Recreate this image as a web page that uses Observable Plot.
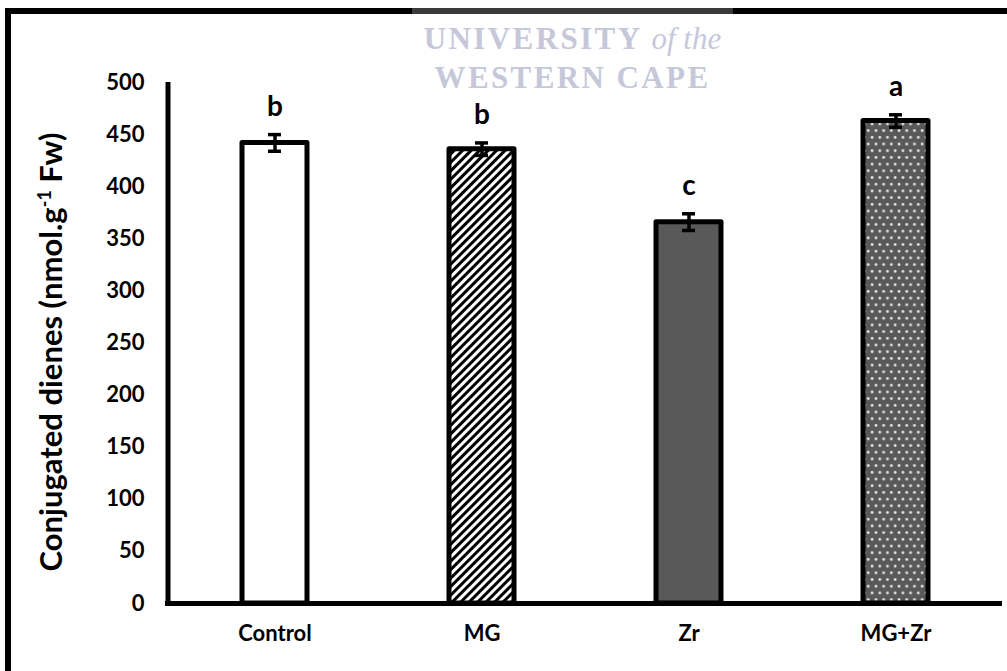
<!DOCTYPE html>
<html>
<head>
<meta charset="utf-8">
<script src="https://cdn.jsdelivr.net/npm/d3@7"></script>
<script src="https://cdn.jsdelivr.net/npm/@observablehq/plot@0.6"></script>
<style>
  html, body { margin: 0; padding: 0; background: #fff; }
  #wrap { position: relative; width: 1007px; height: 671px; overflow: hidden; background: #fff; }
  #chart { position: absolute; left: 0; top: 0; }
  .border-top { position: absolute; left: 5px; top: 8px; width: 1010px; height: 6px; background: #000; }
  .border-left { position: absolute; left: 5px; top: 8px; width: 6px; height: 700px; background: #000; }
  .wm-box { position: absolute; left: 412px; top: 0px; width: 321px; height: 8px; background: #fff; }
  .wm-line { position: absolute; left: 412px; top: 8px; width: 321px; height: 6px; background: #3a3a3a; }
  .wm { position: absolute; left: 402px; width: 341px; text-align: center; color: #c6c8da; font-weight: bold;
        font-family: "Liberation Serif", "DejaVu Serif", serif; font-size: 31px; letter-spacing: 2.4px; line-height: 1; }
</style>
</head>
<body>
<div id="wrap">
  <div id="chart"></div>
  <div class="border-top"></div>
  <div class="border-left"></div>
  <div class="wm-box"></div>
  <div class="wm-line"></div>
  <div class="wm" style="top:23px">UNIVERSITY <i style="letter-spacing:0;font-weight:normal">of the</i></div>
  <div class="wm" style="top:62px">WESTERN CAPE</div>
</div>
<script>
const categories = ["Control", "MG", "Zr", "MG+Zr"];
const means = [442, 436, 366, 463];
const errors = [8, 6, 8, 6];
const letters = ["b", "b", "c", "a"];
const yTicks = [0, 50, 100, 150, 200, 250, 300, 350, 400, 450, 500];

const data = categories.map((c, i) => ({cat: c, mean: means[i], err: errors[i], letter: letters[i]}));
const barFills = ["#ffffff", "url(#hatch)", "#595959", "url(#dots)"];

const font = "Lato, 'Open Sans', sans-serif";

const yAxisLine = (index, scales, values, dimensions) => {
  const g = d3.create("svg:line")
    .attr("x1", dimensions.marginLeft).attr("x2", dimensions.marginLeft)
    .attr("y1", scales.y(500)).attr("y2", scales.y(0) + 2)
    .attr("stroke", "#000").attr("stroke-width", 5);
  return g.node();
};

const chart = Plot.plot({
  width: 1007,
  height: 671,
  marginLeft: 168,
  marginRight: 5,
  marginTop: 82,
  marginBottom: 68,
  style: {fontFamily: font, background: "transparent"},
  x: {domain: categories, paddingInner: 0.6875, paddingOuter: 0.35},
  y: {domain: [0, 500]},
  color: {domain: categories, range: barFills},
  marks: [
    Plot.barY(data, {x: "cat", y: "mean", fill: "cat", stroke: "#000", strokeWidth: 5, strokeLinejoin: "round"}),
    Plot.ruleX(data, {x: "cat", y1: d => d.mean - d.err, y2: d => d.mean + d.err, stroke: "#000", strokeWidth: 3.5}),
    Plot.tickY(data, {x: "cat", y: d => d.mean + d.err, stroke: "#000", strokeWidth: 3.5, insetLeft: 26, insetRight: 26}),
    Plot.tickY(data, {x: "cat", y: d => d.mean - d.err, stroke: "#000", strokeWidth: 3.5, insetLeft: 26, insetRight: 26}),
    Plot.text(data, {x: "cat", y: d => d.mean + d.err, text: "letter", dy: -28, fontSize: 28, fontWeight: "bold", fill: "#000"}),
    Plot.ruleY([0], {stroke: "#000", strokeWidth: 5, insetLeft: -3}),
    yAxisLine,
    Plot.axisY({ticks: yTicks, tickSize: 0, tickPadding: 24, fontSize: 22, fontWeight: "bold", label: null, fill: "#000"}),
    Plot.axisX({tickSize: 0, tickPadding: 22, fontSize: 22, fontWeight: "bold", label: null, fill: "#000"})
  ]
});

const svg = d3.select(chart);
const defs = svg.insert("defs", ":first-child");
const hatch = defs.append("pattern").attr("id", "hatch").attr("patternUnits", "userSpaceOnUse")
  .attr("width", 6).attr("height", 6).attr("patternTransform", "rotate(45)");
hatch.append("rect").attr("width", 6).attr("height", 6).attr("fill", "#fff");
hatch.append("rect").attr("width", 3).attr("height", 6).attr("fill", "#000");
const dots = defs.append("pattern").attr("id", "dots").attr("patternUnits", "userSpaceOnUse")
  .attr("width", 7.7).attr("height", 13.4);
dots.append("rect").attr("width", 7.7).attr("height", 13.4).attr("fill", "#595959");
dots.append("circle").attr("cx", 2).attr("cy", 3.3).attr("r", 1.4).attr("fill", "#e6e6e6");
dots.append("circle").attr("cx", 5.85).attr("cy", 10).attr("r", 1.4).attr("fill", "#e6e6e6");

const title = svg.append("text")
  .attr("transform", "translate(62,352) rotate(-90)")
  .attr("text-anchor", "middle")
  .attr("font-family", font).attr("font-weight", "bold").attr("font-size", 31).attr("fill", "#000");
title.append("tspan").text("Conjugated dienes (nmol.g");
title.append("tspan").attr("baseline-shift", "super").attr("font-size", 18).text("-1");
title.append("tspan").text(" Fw)");

document.getElementById("chart").appendChild(chart);
</script>
</body>
</html>
